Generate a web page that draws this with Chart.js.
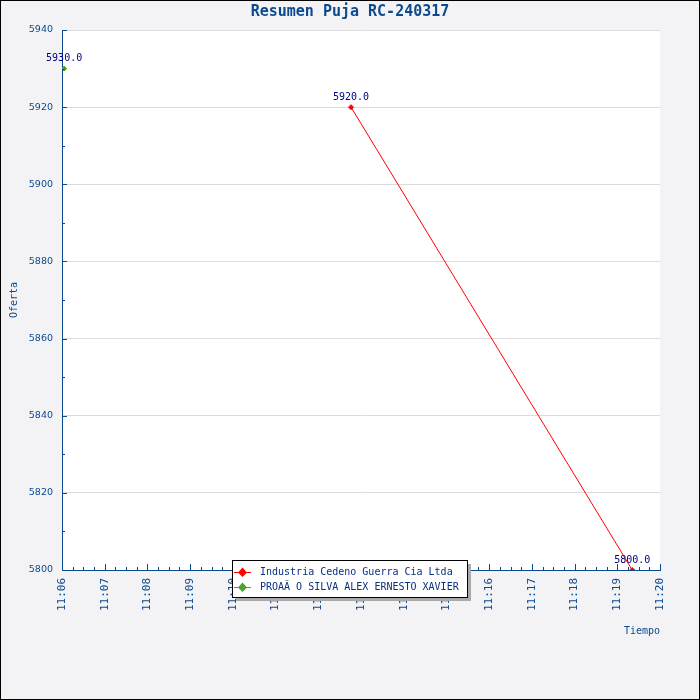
<!DOCTYPE html>
<html>
<head>
<meta charset="utf-8">
<script src="https://cdn.jsdelivr.net/npm/chart.js@4.4.1/dist/chart.umd.min.js"></script>
<style>
  body { margin: 0; background: #ffffff; }
  canvas { display: block; }
</style>
</head>
<body>
<canvas id="puja" width="700" height="700"></canvas>
<script>
const chartTitle = 'Resumen Puja RC-240317';
const seriesNames = ['Industria Cedeno Guerra Cia Ltda', 'PROAÃ O SILVA ALEX ERNESTO XAVIER'];
const seriesColors = ['#ff0000', '#4aa52a'];
const cedenoTimes = ['11:12:46', '11:19:21'];
const cedenoBids = [5920, 5800];
const proanoTimes = ['11:06:03'];
const proanoBids = [5930];
const xTickLabels = ['11:06', '11:07', '11:08', '11:09', '11:10', '11:11', '11:12',
    '11:13', '11:14', '11:15', '11:16', '11:17', '11:18', '11:19', '11:20'];
const yTicks = [5800, 5820, 5840, 5860, 5880, 5900, 5920, 5940];

const blue = '#0b4a8f';
const mono = "'DejaVu Sans Mono', monospace";

function toSec(t) {
    const p = t.split(':').map(Number);
    return p[0] * 3600 + p[1] * 60 + (p[2] || 0);
}
function points(times, bids) {
    return times.map((t, i) => ({ x: toSec(t), y: bids[i] }));
}

const xMin = toSec(xTickLabels[0]);
const xMax = toSec(xTickLabels[xTickLabels.length - 1]);

// background, plot area, frame, title and axis names
const frame = {
    id: 'frame',
    beforeDraw(chart) {
        const { ctx, chartArea: a, width, height } = chart;
        ctx.save();
        ctx.fillStyle = '#f3f3f5';
        ctx.fillRect(0, 0, width, height);
        ctx.fillStyle = '#ffffff';
        ctx.fillRect(a.left, a.top, a.right - a.left, a.bottom - a.top);
        ctx.restore();
    },
    afterDraw(chart) {
        const { ctx, chartArea: a, width, height } = chart;
        ctx.save();
        ctx.strokeStyle = '#000000';
        ctx.lineWidth = 1;
        ctx.strokeRect(0.5, 0.5, width - 1, height - 1);
        ctx.fillStyle = blue;
        ctx.textAlign = 'center';
        ctx.textBaseline = 'middle';
        ctx.font = 'bold 15px ' + mono;
        ctx.fillText(chartTitle, width / 2, 12);
        ctx.font = '10px ' + mono;
        ctx.textAlign = 'right';
        ctx.fillText('Tiempo', a.right, 631);
        ctx.translate(14, (a.top + a.bottom) / 2);
        ctx.rotate(-Math.PI / 2);
        ctx.textAlign = 'center';
        ctx.fillText('Oferta', 0, 0);
        ctx.restore();
    }
};

// inward major/minor tick marks
const tickMarks = {
    id: 'tickMarks',
    afterDraw(chart) {
        const { ctx, chartArea: a, scales } = chart;
        ctx.save();
        ctx.strokeStyle = blue;
        ctx.lineWidth = 1;
        ctx.beginPath();
        for (let v = xMin; v <= xMax; v += 15) {
            const px = Math.round(scales.x.getPixelForValue(v)) + 0.5;
            const len = (v - xMin) % 60 === 0 ? 6 : 3;
            ctx.moveTo(px, a.bottom);
            ctx.lineTo(px, a.bottom - len);
        }
        for (let v = yTicks[0]; v <= yTicks[yTicks.length - 1]; v += 10) {
            const py = Math.round(scales.y.getPixelForValue(v)) + 0.5;
            const len = (v - yTicks[0]) % 20 === 0 ? 5 : 3;
            ctx.moveTo(a.left, py);
            ctx.lineTo(a.left + len, py);
        }
        ctx.stroke();
        ctx.restore();
    }
};

// value labels above each point
const valueLabels = {
    id: 'valueLabels',
    afterDatasetsDraw(chart) {
        const { ctx } = chart;
        ctx.save();
        ctx.fillStyle = '#000080';
        ctx.font = '10px ' + mono;
        ctx.textAlign = 'center';
        ctx.textBaseline = 'middle';
        chart.data.datasets.forEach((ds, i) => {
            chart.getDatasetMeta(i).data.forEach((pt, j) => {
                ctx.fillText(ds.data[j].y.toFixed(1), pt.x, pt.y - 10);
            });
        });
        ctx.restore();
    }
};

// boxed legend sitting over the x axis
const boxLegend = {
    id: 'boxLegend',
    afterDraw(chart) {
        const { ctx } = chart;
        const x = 232, y = 560, w = 235, h = 37;
        ctx.save();
        ctx.fillStyle = '#aaaaaa';
        ctx.fillRect(x + 4, y + 4, w, h);
        ctx.fillStyle = '#ffffff';
        ctx.fillRect(x, y, w, h);
        ctx.strokeStyle = '#000000';
        ctx.lineWidth = 1;
        ctx.strokeRect(x + 0.5, y + 0.5, w, h);
        ctx.font = '10px ' + mono;
        ctx.textBaseline = 'middle';
        chart.data.datasets.forEach((ds, i) => {
            const cy = y + 12 + i * 15;
            ctx.strokeStyle = ds.borderColor;
            ctx.beginPath();
            ctx.moveTo(x + 2, cy + 0.5);
            ctx.lineTo(x + 19, cy + 0.5);
            ctx.stroke();
            ctx.fillStyle = ds.borderColor;
            ctx.beginPath();
            ctx.moveTo(x + 10.5, cy - 4.5);
            ctx.lineTo(x + 15, cy + 0.5);
            ctx.lineTo(x + 10.5, cy + 5);
            ctx.lineTo(x + 6, cy + 0.5);
            ctx.closePath();
            ctx.fill();
            ctx.fillStyle = '#0a2f80';
            ctx.fillText(ds.label, x + 28, cy);
        });
        ctx.restore();
    }
};

new Chart(document.getElementById('puja'), {
    type: 'line',
    data: {
        datasets: [
            {
                label: seriesNames[0],
                data: points(cedenoTimes, cedenoBids),
                borderColor: seriesColors[0],
                backgroundColor: seriesColors[0],
                borderWidth: 1,
                pointStyle: 'rectRot',
                pointRadius: 2.5,
                tension: 0
            },
            {
                label: seriesNames[1],
                data: points(proanoTimes, proanoBids),
                borderColor: seriesColors[1],
                backgroundColor: seriesColors[1],
                borderWidth: 1,
                pointStyle: 'rectRot',
                pointRadius: 2.5
            }
        ]
    },
    options: {
        responsive: false,
        animation: false,
        devicePixelRatio: 1,
        layout: { padding: { top: 30, right: 40, left: 0, bottom: 0 } },
        plugins: {
            legend: { display: false },
            title: { display: false },
            tooltip: { enabled: false }
        },
        scales: {
            x: {
                type: 'linear',
                min: xMin,
                max: xMax,
                afterFit(scale) { scale.height = 130; },
                afterBuildTicks(scale) {
                    scale.ticks = xTickLabels.map(t => ({ value: toSec(t) }));
                },
                grid: { display: false, drawTicks: false },
                border: { display: true, color: blue, width: 1 },
                ticks: {
                    autoSkip: false,
                    minRotation: 90,
                    maxRotation: 90,
                    padding: 8,
                    color: blue,
                    font: { family: mono, size: 11 },
                    callback: (v, i) => xTickLabels[i]
                }
            },
            y: {
                min: yTicks[0],
                max: yTicks[yTicks.length - 1],
                afterFit(scale) { scale.width = 62; },
                afterBuildTicks(scale) {
                    scale.ticks = yTicks.map(v => ({ value: v }));
                },
                grid: { color: '#dcdcdc', drawTicks: false },
                border: { display: true, color: blue, width: 1 },
                ticks: {
                    padding: 9,
                    color: blue,
                    font: { family: "'DejaVu Sans', sans-serif", size: 9.5 },
                    callback: v => String(v)
                }
            }
        }
    },
    plugins: [frame, tickMarks, valueLabels, boxLegend]
});
</script>
</body>
</html>
